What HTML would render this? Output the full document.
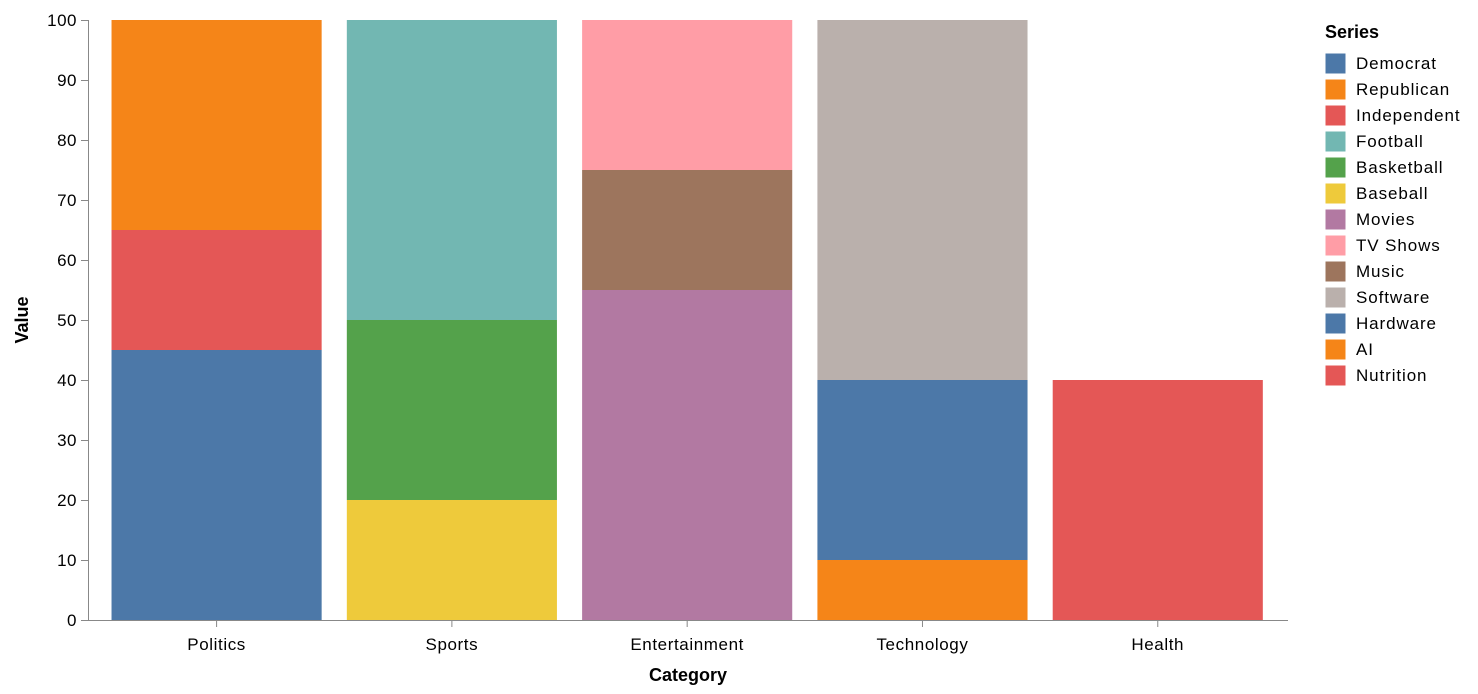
<!DOCTYPE html>
<html><head><meta charset="utf-8"><style>
html,body{margin:0;padding:0;background:#fff;}
svg{display:block;font-family:"Liberation Sans",Arial,sans-serif;}
</style></head><body>
<svg id="chart" width="1478" height="694"></svg>
<script>
const categories = ["Politics","Sports","Entertainment","Technology","Health"];
const seriesNames = ["Democrat","Republican","Independent","Football","Basketball","Baseball","Movies","TV Shows","Music","Software","Hardware","AI","Nutrition"];
const seriesColors = ["#4c78a8","#f58518","#e45756","#72b7b2","#54a24b","#eeca3b","#b279a2","#ff9da6","#9d755d","#bab0ac","#4c78a8","#f58518","#e45756"];
// stacks bottom to top
const stackCategory = ["Politics","Politics","Politics","Sports","Sports","Sports","Entertainment","Entertainment","Entertainment","Technology","Technology","Technology","Health"];
const stackSeries = ["Democrat","Independent","Republican","Baseball","Basketball","Football","Movies","Music","TV Shows","AI","Hardware","Software","Nutrition"];
const stackValues = [45,20,35,20,30,50,55,20,25,10,30,60,40];
const yTicks = [0,10,20,30,40,50,60,70,80,90,100];

const NS="http://www.w3.org/2000/svg";
const svg=document.getElementById('chart');
function el(tag,attrs,parent){const e=document.createElementNS(NS,tag);for(const k in attrs)e.setAttribute(k,attrs[k]);(parent||svg).appendChild(e);return e;}
const X0=88,X1=1288,Y0=620,Y1=20;
const step=(X1-X0)/(categories.length-0.1+0.2);
const bw=step*0.893;
function xBand(c){return X0+step*0.1+categories.indexOf(c)*step;}
function y(v){return Y0-(v/100)*(Y0-Y1);}

const base={};
for(let i=0;i<stackValues.length;i++){
  const c=stackCategory[i],b=base[c]||0,v=stackValues[i];
  const r=el('rect',{x:xBand(c),y:y(b+v),width:bw,height:y(b)-y(b+v),fill:seriesColors[seriesNames.indexOf(stackSeries[i])]});
  
  
  base[c]=b+v;
}
const ya=el('g',{});


el('line',{x1:X0+0.5,x2:X0+0.5,y1:Y1,y2:Y0,stroke:'#888'},ya);
yTicks.forEach(t=>{
  el('line',{x1:X0-7,x2:X0,y1:y(t)+0.5,y2:y(t)+0.5,stroke:'#888'},ya);
  const tx=el('text',{x:X0-11,y:y(t)+6,'text-anchor':'end','font-size':17,'letter-spacing':0.5,fill:'#000'},ya);
  tx.textContent=t;
  
  
});
const yt=el('text',{transform:'translate(28,320) rotate(-90)','text-anchor':'middle','font-size':18,'font-weight':'bold'},ya);
yt.textContent='Value';


const xa=el('g',{});


el('line',{x1:X0,x2:X1,y1:Y0+0.5,y2:Y0+0.5,stroke:'#888'},xa);
categories.forEach(c=>{
  const cx=xBand(c)+bw/2;
  el('line',{x1:cx,x2:cx,y1:Y0,y2:Y0+7,stroke:'#888'},xa);
  const tx=el('text',{x:cx,y:650,'text-anchor':'middle','font-size':17,'letter-spacing':0.6},xa);
  tx.textContent=c;
  
  
});
const xt=el('text',{x:(X0+X1)/2,y:681,'text-anchor':'middle','font-size':18,'font-weight':'bold'},xa);
xt.textContent='Category';


const lg=el('g',{});


const lt=el('text',{x:1325,y:38,'font-size':18,'font-weight':'bold'},lg);
lt.textContent='Series';


seriesNames.forEach((s,i)=>{
  const g=el('g',{},lg);
  
  
  const cy=63+i*26;
  el('rect',{x:1326,y:cy-9,width:19,height:19,fill:seriesColors[i],stroke:seriesColors[i]},g);
  const t=el('text',{x:1356,y:cy+6,'font-size':17,'letter-spacing':0.9},g);
  t.textContent=s;
});
</script>
</body></html>
